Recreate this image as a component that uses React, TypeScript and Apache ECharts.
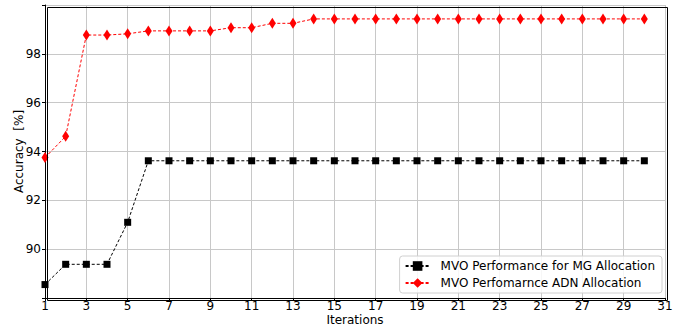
import React, { useEffect, useRef } from "react";
import * as echarts from "echarts";

const iterations = Array.from({ length: 30 }, (_, i) => i + 1);
const mgValues = [
  88.55, 89.38, 89.38, 89.38, 91.1,
  93.62, 93.62, 93.62, 93.62, 93.62, 93.62, 93.62, 93.62, 93.62, 93.62,
  93.62, 93.62, 93.62, 93.62, 93.62, 93.62, 93.62, 93.62, 93.62, 93.62,
  93.62, 93.62, 93.62, 93.62, 93.62,
];
const adnValues = [
  93.75, 94.62, 98.77, 98.77, 98.82,
  98.94, 98.94, 98.94, 98.94, 99.07, 99.07, 99.25, 99.25, 99.43, 99.43,
  99.43, 99.43, 99.43, 99.43, 99.43, 99.43, 99.43, 99.43, 99.43, 99.43,
  99.43, 99.43, 99.43, 99.43, 99.43,
];
const seriesNames = [
  "MVO Performance for MG Allocation",
  "MVO Perfomarnce ADN Allocation",
];
const yTicks = [90, 92, 94, 96, 98];

const FONT = "DejaVu Sans";

export default function App() {
  const ref = useRef<HTMLDivElement>(null);
  useEffect(() => {
    document.body.style.margin = "0";
    if (!ref.current) return;
    const chart = echarts.init(ref.current, undefined, { renderer: "svg" });
    chart.setOption({
      animation: false,
      backgroundColor: "#ffffff",
      textStyle: { fontFamily: FONT },
      grid: {
        left: 45,
        right: 18,
        top: 5,
        bottom: 30,
        containLabel: false,
        outerBoundsMode: "none",
      },
      legend: {
        orient: "vertical",
        right: 21,
        bottom: 35,
        itemWidth: 24,
        itemHeight: 12,
        itemGap: 5,
        padding: [4, 7, 4, 5],
        borderColor: "#d0d0d0",
        borderWidth: 1,
        borderRadius: 3,
        backgroundColor: "rgba(255,255,255,0.85)",
        textStyle: {
          fontFamily: FONT,
          fontSize: 12,
          color: "#000",
          padding: [0, 0, 0, 6],
        },
        data: seriesNames,
      },
      xAxis: {
        type: "value",
        min: 1,
        max: 31,
        interval: 2,
        name: "Iterations",
        nameLocation: "middle",
        nameGap: 16,
        nameMoveOverlap: false,
        nameTextStyle: { fontFamily: FONT, fontSize: 12, color: "#000", lineHeight: 12 },
        axisLine: { lineStyle: { color: "#000", width: 1 } },
        axisTick: { show: true, length: 3, lineStyle: { color: "#000" } },
        axisLabel: { fontFamily: FONT, fontSize: 12, lineHeight: 12, color: "#000", margin: 2 },
        splitLine: { show: true, lineStyle: { color: "#c8c8c8", width: 1 } },
      },
      yAxis: {
        type: "value",
        min: 88,
        max: 100,
        interval: 2,
        name: "Accuracy  [%]",
        nameLocation: "middle",
        nameGap: 20,
        nameMoveOverlap: false,
        nameTextStyle: { fontFamily: FONT, fontSize: 12, color: "#000" },
        axisLine: { show: true, lineStyle: { color: "#000", width: 1 } },
        axisTick: { show: true, length: 3, lineStyle: { color: "#000" } },
        axisLabel: {
          fontFamily: FONT,
          fontSize: 12,
          color: "#000",
          margin: 4,
          formatter: (v: number) => (yTicks.includes(v) ? String(v) : ""),
        },
        splitLine: { show: true, lineStyle: { color: "#c8c8c8", width: 1 } },
      },
      series: [
        {
          name: seriesNames[0],
          type: "line",
          data: iterations.map((x, i) => [x, mgValues[i]]),
          symbol: "rect",
          symbolSize: 7,
          itemStyle: { color: "#000" },
          lineStyle: { color: "#000", width: 1, type: [3, 2] },
          z: 3,
        },
        {
          name: seriesNames[1],
          type: "line",
          data: iterations.map((x, i) => [x, adnValues[i]]),
          symbol: "diamond",
          symbolSize: [7, 11],
          itemStyle: { color: "#ff0000" },
          lineStyle: { color: "#ff0000", width: 1, type: [3, 2] },
          z: 3,
        },
      ],
      graphic: [
        {
          type: "rect",
          left: 45,
          top: 5,
          shape: { width: 620, height: 293 },
          style: { fill: "none", stroke: "#000", lineWidth: 1 },
          silent: true,
          z: 10,
        },
      ],
    });
    return () => chart.dispose();
  }, []);
  return <div ref={ref} style={{ width: 683, height: 328 }} />;
}
